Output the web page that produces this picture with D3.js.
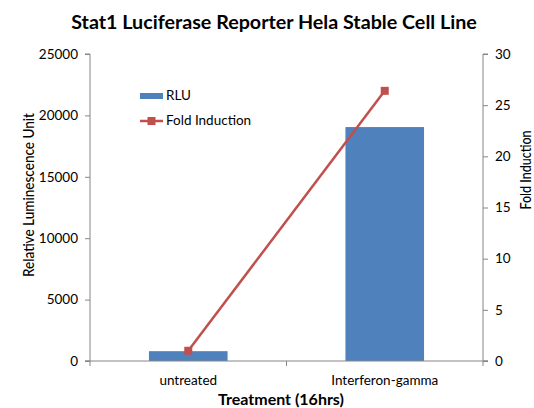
<!DOCTYPE html>
<html>
<head>
<meta charset="utf-8">
<script src="https://cdn.jsdelivr.net/npm/d3@7"></script>
<style>
  body { margin: 0; background: #fff; }
  text { font-family: Lato, "Open Sans", sans-serif; fill: #000; }
</style>
</head>
<body>
<script>
var width = 534,
    height = 408;

// data
var categories = ["untreated", "Interferon-gamma"];
var rlu = [800, 19050];
var foldInduction = [1, 26.4];
var rluTicks = [0, 5000, 10000, 15000, 20000, 25000];
var foldTicks = [0, 5, 10, 15, 20, 25, 30];

var plot = {left: 90, right: 483, top: 54, bottom: 361};

var svg = d3.select("body").append("svg")
    .attr("width", width)
    .attr("height", height);

var x = d3.scaleBand()
    .domain(categories)
    .range([plot.left, plot.right])
    .paddingInner(0)
    .paddingOuter(0);

var y = d3.scaleLinear().domain([0, 25000]).range([plot.bottom, plot.top]);
var y2 = d3.scaleLinear().domain([0, 30]).range([plot.bottom, plot.top]);

var barW = x.bandwidth() * 0.4;

// bars
svg.selectAll(".bar")
    .data(rlu)
    .enter().append("rect")
      .attr("class", "bar")
      .attr("x", function(d, i) { return x(categories[i]) + x.bandwidth() / 2 - barW / 2; })
      .attr("y", function(d) { return y(d); })
      .attr("width", barW)
      .attr("height", function(d) { return y(0) - y(d); })
      .attr("fill", "#4f81bd");

// axes
var axisColor = "#868686";

var gl = svg.append("g")
    .attr("transform", "translate(" + plot.left + ",0)")
    .call(d3.axisLeft(y).tickValues(rluTicks).tickSize(5).tickPadding(7).tickFormat(d3.format("d")));

var gr = svg.append("g")
    .attr("transform", "translate(" + plot.right + ",0)")
    .call(d3.axisRight(y2).tickValues(foldTicks).tickSize(5).tickPadding(7));

var gb = svg.append("g")
    .attr("transform", "translate(0," + plot.bottom + ")")
    .call(d3.axisBottom(x).tickSize(0).tickPadding(14));

// category boundary ticks like excel
var bounds = [plot.left, x(categories[1]), plot.right];
svg.selectAll(".ctick")
    .data(bounds)
    .enter().append("line")
      .attr("x1", function(d) { return d; })
      .attr("x2", function(d) { return d; })
      .attr("y1", plot.bottom)
      .attr("y2", plot.bottom + 5)
      .attr("stroke", axisColor);

[gl, gr, gb].forEach(function(g) {
  g.select(".domain").attr("stroke", axisColor).attr("stroke-width", 1);
  g.selectAll(".tick line").attr("stroke", axisColor);
  g.selectAll(".tick text")
      .style("font-family", "Lato, sans-serif")
      .style("font-size", "13.5px")
      .attr("fill", "#000");
});
gl.select(".domain").attr("d", "M" + (-5) + "," + plot.top + "H0V" + plot.bottom + "H-5");
gr.select(".domain").attr("d", "M5," + plot.top + "H0V" + plot.bottom + "H5");
gb.select(".domain").attr("d", "M" + (plot.left - 5) + ",0H" + (plot.right + 5));

// fold induction line
var line = d3.line()
    .x(function(d, i) { return x(categories[i]) + x.bandwidth() / 2; })
    .y(function(d) { return y2(d); });

svg.append("path")
    .datum(foldInduction)
    .attr("d", line)
    .attr("fill", "none")
    .attr("stroke", "#c0504d")
    .attr("stroke-width", 2.5);

svg.selectAll(".marker")
    .data(foldInduction)
    .enter().append("rect")
      .attr("x", function(d, i) { return x(categories[i]) + x.bandwidth() / 2 - 4; })
      .attr("y", function(d) { return y2(d) - 4; })
      .attr("width", 8)
      .attr("height", 8)
      .attr("fill", "#c0504d");

// titles
svg.append("text")
    .attr("x", 274)
    .attr("y", 29)
    .attr("text-anchor", "middle")
    .style("font-size", "19.7px")
    .style("font-weight", "bold")
    .text("Stat1 Luciferase Reporter Hela Stable Cell Line");

svg.append("text")
    .attr("transform", "translate(34,195)rotate(-90)")
    .attr("text-anchor", "middle")
    .attr("textLength", 164)
    .attr("lengthAdjust", "spacingAndGlyphs")
    .style("font-size", "15px")
    .style("font-weight", 500)
    .text("Relative Luminescence Unit");

svg.append("text")
    .attr("transform", "translate(531,170)rotate(-90)")
    .attr("text-anchor", "middle")
    .attr("textLength", 79)
    .attr("lengthAdjust", "spacingAndGlyphs")
    .style("font-size", "15px")
    .style("font-weight", 500)
    .text("Fold Induction");

svg.append("text")
    .attr("x", 281)
    .attr("y", 405)
    .attr("text-anchor", "middle")
    .style("font-size", "16px")
    .style("font-weight", "bold")
    .text("Treatment (16hrs)");

// legend
var lg = svg.append("g");
lg.append("rect")
    .attr("x", 140).attr("y", 93)
    .attr("width", 23).attr("height", 6)
    .attr("fill", "#4f81bd");
lg.append("text")
    .attr("x", 166).attr("y", 100)
    .style("font-size", "13.5px")
    .text("RLU");
lg.append("line")
    .attr("x1", 140).attr("x2", 163)
    .attr("y1", 121).attr("y2", 121)
    .attr("stroke", "#c0504d").attr("stroke-width", 2.5);
lg.append("rect")
    .attr("x", 147.5).attr("y", 117)
    .attr("width", 8).attr("height", 8)
    .attr("fill", "#c0504d");
lg.append("text")
    .attr("x", 166).attr("y", 125)
    .style("font-size", "13.5px")
    .text("Fold Induction");
</script>
</body>
</html>
